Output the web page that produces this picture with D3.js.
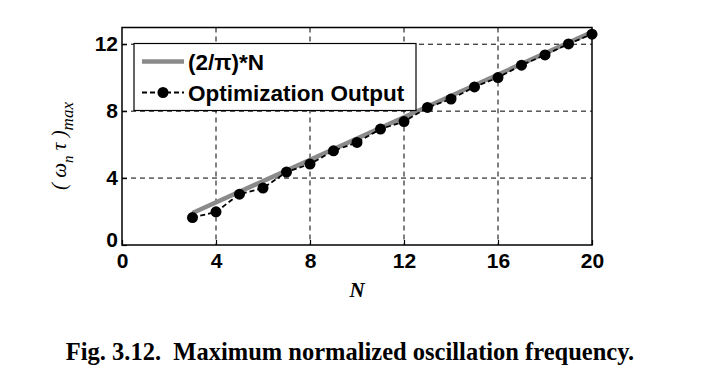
<!DOCTYPE html>
<html><head><meta charset="utf-8">
<script src="https://d3js.org/d3.v7.min.js"></script>
<style>body{margin:0;background:#fff}svg{display:block}</style>
</head><body>
<svg id="c" width="705" height="382"></svg>
<script>
const nValues = [3,4,5,6,7,8,9,10,11,12,13,14,15,16,17,18,19,20];
const optOutput = [1.64,1.98,3.04,3.40,4.36,4.84,5.63,6.13,6.93,7.38,8.22,8.72,9.45,10.01,10.75,11.36,12.02,12.60];
const theoryRange = [3,20];
const xTicks = [0,4,8,12,16,20];
const yTicks = [0,4,8,12];
const legendLabels = ["(2/\u03c0)*N","Optimization Output"];
const caption = "Fig. 3.12.  Maximum normalized oscillation frequency.";

const svg = d3.select("#c");
const L=122,R=592,T=27.5,B=245;
const x = d3.scaleLinear().domain([0,20]).range([L,R]);
const y = d3.scaleLinear().domain([0,13]).range([B,T]);

// grid
const g = svg.append("g");
g.selectAll(".gx").data(xTicks.filter(d=>d>0&&d<20)).enter().append("line")
 .attr("x1",d=>x(d)).attr("x2",d=>x(d)).attr("y1",T).attr("y2",B)
 .attr("stroke","#000").attr("stroke-width",1).attr("stroke-dasharray","5,4");
g.selectAll(".gy").data(yTicks.filter(d=>d>0)).enter().append("line")
 .attr("y1",d=>y(d)).attr("y2",d=>y(d)).attr("x1",L).attr("x2",R)
 .attr("stroke","#000").attr("stroke-width",1).attr("stroke-dasharray","5,4");

// axes
const tickFont = "bold 21px Arial, 'Liberation Sans', sans-serif";
const xa = svg.append("g").attr("transform",`translate(0,${B})`)
 .call(d3.axisBottom(x).tickValues(xTicks).tickSizeInner(-5).tickSizeOuter(0).tickPadding(8));
const ya = svg.append("g").attr("transform",`translate(${L},0)`)
 .call(d3.axisLeft(y).tickValues(yTicks).tickSizeInner(-5).tickSizeOuter(0).tickPadding(4));
[xa,ya].forEach(a=>{
  a.select(".domain").remove();
  a.selectAll("line").attr("stroke","#000").attr("stroke-width",1.2);
  a.selectAll("text").style("font",tickFont).attr("fill","#000");
});
ya.selectAll("text").filter(d=>d===0).attr("dy","0.05em");
// box
svg.append("rect").attr("x",L).attr("y",T).attr("width",R-L).attr("height",B-T)
 .attr("fill","none").attr("stroke","#000").attr("stroke-width",1.5);

// theory line
svg.append("line").attr("x1",x(theoryRange[0])).attr("y1",y(2/Math.PI*theoryRange[0]))
 .attr("x2",x(theoryRange[1])).attr("y2",y(2/Math.PI*theoryRange[1]))
 .attr("stroke","#8a8a8a").attr("stroke-width",4.5);

// optimization output
const pts = nValues.map((n,i)=>[n,optOutput[i]]);
svg.append("path").datum(pts)
 .attr("d",d3.line().x(d=>x(d[0])).y(d=>y(d[1])))
 .attr("fill","none").attr("stroke","#000").attr("stroke-width",1.8).attr("stroke-dasharray","5,3");
svg.selectAll(".pt").data(pts).enter().append("circle")
 .attr("cx",d=>x(d[0])).attr("cy",d=>y(d[1])).attr("r",5.5).attr("fill","#000");

// legend
const lg = svg.append("g");
lg.append("rect").attr("x",134).attr("y",43.5).attr("width",282).attr("height",67)
 .attr("fill","#fff").attr("stroke","#000").attr("stroke-width",1.2);
lg.append("line").attr("x1",142).attr("x2",184).attr("y1",61.5).attr("y2",61.5)
 .attr("stroke","#8a8a8a").attr("stroke-width",4.5);
lg.append("line").attr("x1",142).attr("x2",184).attr("y1",92.5).attr("y2",92.5)
 .attr("stroke","#000").attr("stroke-width",1.8).attr("stroke-dasharray","5,3");
lg.append("circle").attr("cx",163).attr("cy",92.5).attr("r",5.5).attr("fill","#000");
lg.selectAll("text").data(legendLabels).enter().append("text")
 .attr("x",188).attr("y",(d,i)=>62+i*31).attr("dy","0.36em")
 .style("font","bold 22.5px Arial, 'Liberation Sans', sans-serif").attr("fill","#000")
 .text(d=>d);

// axis labels
svg.append("text").attr("x",357).attr("y",297).attr("text-anchor","middle")
 .style("font","italic bold 21px 'Liberation Serif', 'Times New Roman', serif").text("N");
const yl = svg.append("text").attr("transform","translate(66,146) rotate(-90)")
 .attr("text-anchor","middle")
 .style("font","italic 21px 'Liberation Serif', 'Times New Roman', serif").attr("fill","#000");
yl.append("tspan").text("( \u03c9");
yl.append("tspan").attr("dy",7).style("font-size","15px").text("n");
yl.append("tspan").attr("dy",-7).text(" \u03c4 )");
yl.append("tspan").attr("dy",7).style("font-size","17px").text("max");

// caption
svg.append("text").attr("x",350).attr("y",360).attr("text-anchor","middle")
 .attr("xml:space","preserve").style("white-space","pre")
 .style("font","bold 24.5px 'Liberation Serif', 'Times New Roman', serif").text(caption);
</script>
</body></html>
